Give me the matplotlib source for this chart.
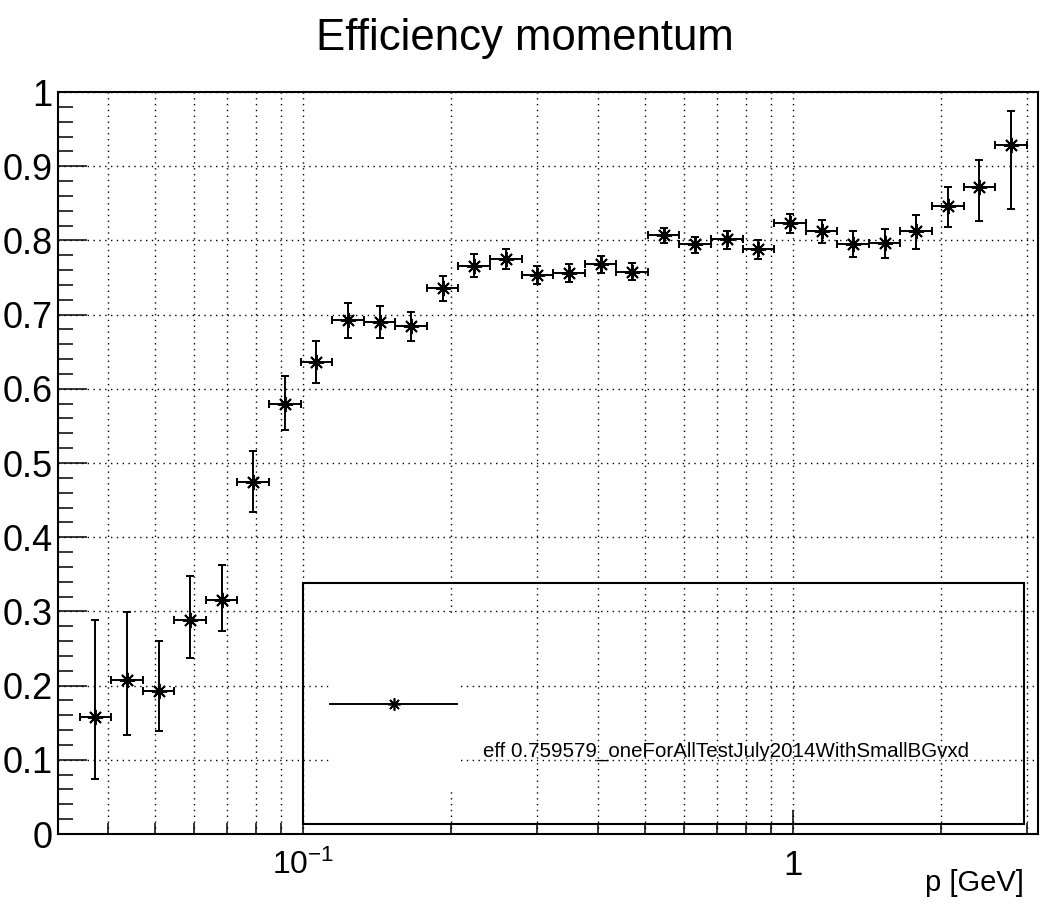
#!/usr/bin/env python3
"""Tracking efficiency as a function of momentum, ROOT-style."""

import matplotlib
matplotlib.use("Agg")
import matplotlib.pyplot as plt
import numpy as np
from matplotlib.lines import Line2D
from matplotlib.patches import Rectangle
from matplotlib.ticker import FixedLocator, LogLocator, MultipleLocator, NullFormatter

plt.rcParams["font.family"] = ["Liberation Sans", "DejaVu Sans"]
plt.rcParams["mathtext.default"] = "regular"

# 30 log-spaced momentum bins [GeV]
p_lo, p_hi, n_bins = 0.035, 3.0, 30

eff = [0.158, 0.207, 0.193, 0.289, 0.316, 0.475, 0.580, 0.636, 0.693, 0.690,
       0.685, 0.736, 0.766, 0.775, 0.754, 0.756, 0.768, 0.757, 0.807, 0.795,
       0.802, 0.788, 0.824, 0.813, 0.795, 0.797, 0.813, 0.846, 0.872, 0.929]
eff_up = [0.288, 0.299, 0.260, 0.348, 0.362, 0.516, 0.617, 0.665, 0.716, 0.712,
          0.704, 0.752, 0.781, 0.788, 0.766, 0.768, 0.779, 0.769, 0.817, 0.805,
          0.813, 0.800, 0.836, 0.827, 0.812, 0.815, 0.834, 0.872, 0.909, 0.975]
eff_down = [0.074, 0.133, 0.139, 0.237, 0.274, 0.434, 0.544, 0.608, 0.669, 0.668,
            0.664, 0.719, 0.750, 0.761, 0.741, 0.744, 0.756, 0.746, 0.797, 0.783,
            0.789, 0.775, 0.810, 0.797, 0.778, 0.776, 0.788, 0.818, 0.826, 0.842]

legend_label = "eff 0.759579_oneForAllTestJuly2014WithSmallBGvxd"

edges = np.geomspace(p_lo, p_hi, n_bins + 1)
centers = np.sqrt(edges[:-1] * edges[1:])
eff = np.array(eff)
yerr = [eff - np.array(eff_down), np.array(eff_up) - eff]
xerr = [centers - edges[:-1], edges[1:] - centers]

fig = plt.figure(figsize=(10.45, 9.05), dpi=100)
ax = fig.add_axes([58 / 1045, 71 / 905, 980 / 1045, 742 / 905])

star = (8, 2, 0)
ax.errorbar(centers, eff, xerr=xerr, yerr=yerr, fmt="none", ecolor="black",
            elinewidth=1.4, capsize=2.6, capthick=1.4, zorder=3)
ax.plot(centers, eff, linestyle="none", marker=star, markersize=11,
        markeredgewidth=1.4, color="black", zorder=4)

ax.set_xscale("log")
ax.set_xlim(10 ** -1.5, 10 ** 0.5)
ax.set_ylim(0, 1)

# axis ticks
ax.xaxis.set_major_locator(FixedLocator([0.1, 1.0]))
ax.xaxis.set_minor_locator(LogLocator(base=10, subs=np.arange(2, 10), numticks=20))
ax.xaxis.set_minor_formatter(NullFormatter())
ax.set_xticks([0.1, 1.0], labels=[r"$10^{-1}$", "1"])
xl = ax.get_xticklabels()
xl[0].set_fontsize(23)
xl[1].set_fontsize(25)
ax.yaxis.set_major_locator(MultipleLocator(0.1))
ax.yaxis.set_minor_locator(MultipleLocator(0.02))
ax.set_yticks(np.arange(0, 1.01, 0.1),
              labels=["0"] + [f"{v:.1f}" for v in np.arange(0.1, 0.95, 0.1)] + ["1"])

ax.tick_params(axis="both", which="both", direction="in", top=False, right=False,
               width=1.1, color="black")
ax.tick_params(axis="y", which="major", length=21, pad=4, labelsize=26)
ax.tick_params(axis="y", which="minor", length=10.5)
ax.tick_params(axis="x", which="major", length=17, pad=11)
ax.tick_params(axis="x", which="minor", length=8)

for side in ax.spines.values():
    side.set_linewidth(1.5)

# dotted grid
grid_style = dict(color="black", linestyle=(0, (1, 3.2)), linewidth=1.0)
ax.grid(True, axis="x", which="both", **grid_style)
ax.grid(True, axis="y", which="major", **grid_style)
ax.set_axisbelow(True)

# legend box drawn the way ROOT lays it out
tr = ax.transAxes
ax.add_patch(Rectangle((0.25, 0.0135), 0.7357, 0.3245, transform=tr,
                       facecolor="none", edgecolor="black", linewidth=1.5, zorder=5))
ax.add_patch(Rectangle((0.2776, 0.059), 0.1296, 0.236, transform=tr,
                       facecolor="white", edgecolor="none", zorder=2))
ax.add_line(Line2D([0.2776, 0.4072], [0.175, 0.175], transform=tr,
                   color="black", linewidth=1.4, zorder=5))
ax.add_line(Line2D([0.3424], [0.175], transform=tr, marker=star, markersize=9,
                   markeredgewidth=1.2, color="black", zorder=6))
ax.text(0.4337, 0.104, legend_label, transform=tr, fontsize=14.8,
        ha="left", va="baseline", zorder=6)

fig.text(525 / 1045, 1 - 50 / 905, "Efficiency momentum", fontsize=31.5,
         ha="center", va="baseline")
fig.text(1024 / 1045, 1 - 891 / 905, "p [GeV]", fontsize=21,
         ha="right", va="baseline")

fig.savefig("out.png", dpi=100)
